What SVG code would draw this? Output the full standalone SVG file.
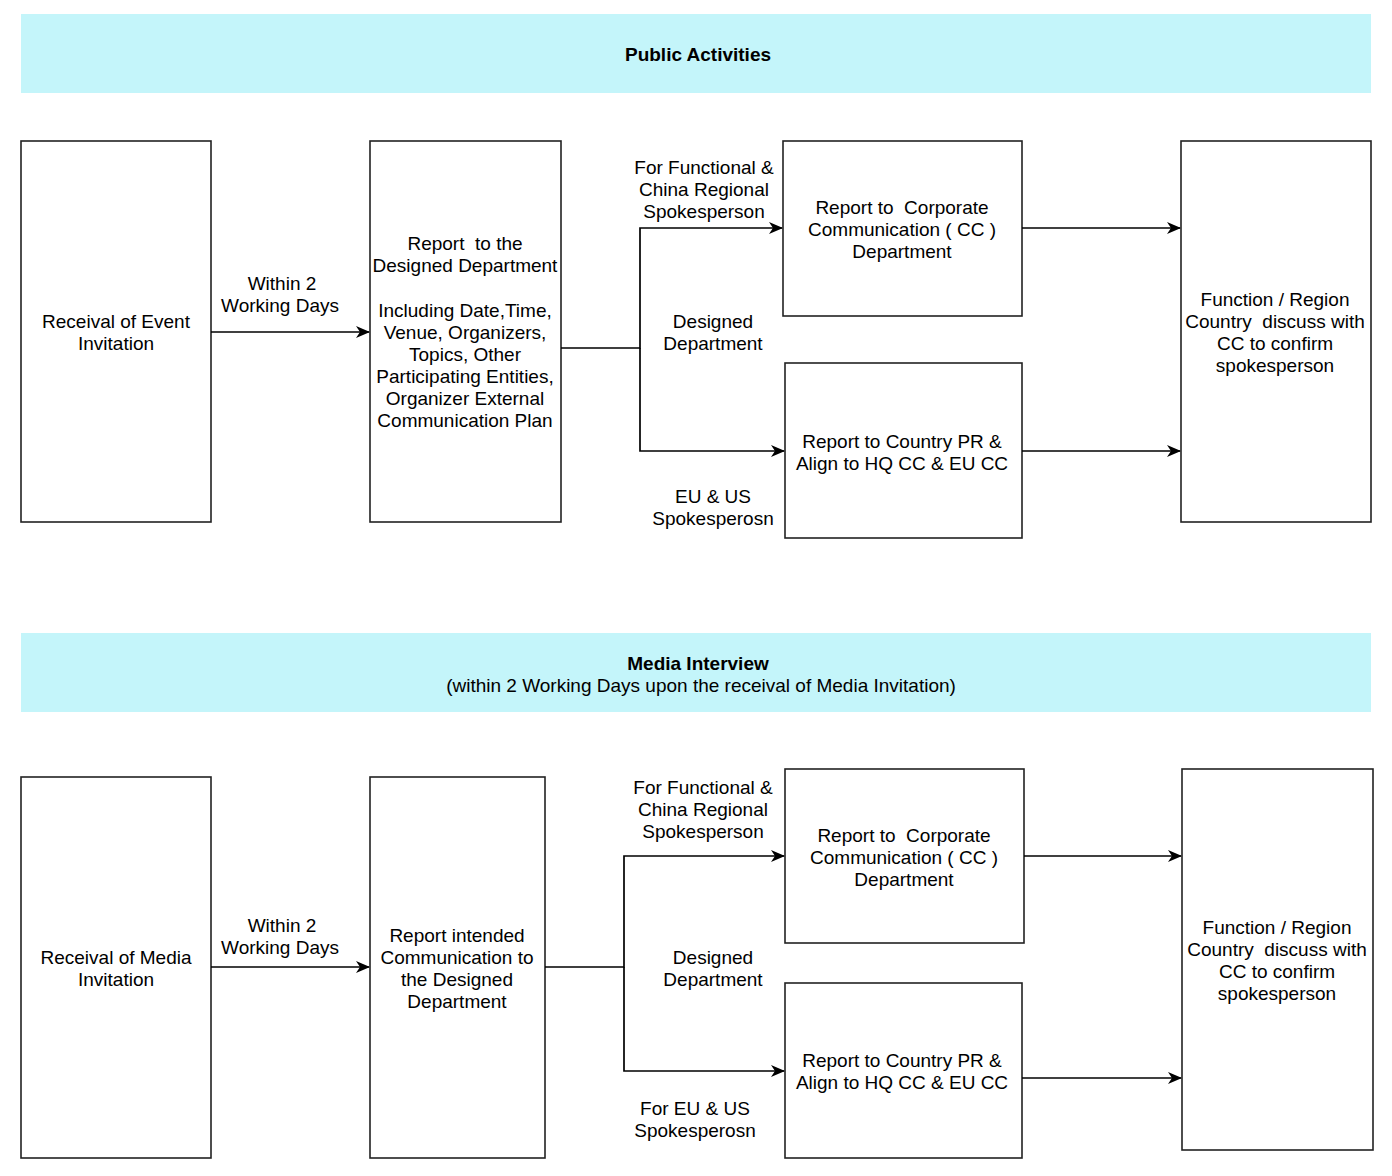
<svg xmlns="http://www.w3.org/2000/svg" width="1392" height="1176" viewBox="0 0 1392 1176">
<style>
.box{fill:#fff;stroke:#222;stroke-width:1.6}
.band{fill:#C4F5FA}
text{font-family:"Liberation Sans",Arial,sans-serif;font-size:19px;fill:#000;text-anchor:middle;white-space:pre}
.b{font-weight:bold}
.ln{fill:none;stroke:#000;stroke-width:1.7}
</style>
<defs>
<marker id="arr" viewBox="0 0 14 12" refX="13" refY="6" markerWidth="14" markerHeight="12" markerUnits="userSpaceOnUse" orient="auto">
<path d="M0,0 L14,6 L0,12 L4,6 Z" fill="#000"/>
</marker>
</defs>
<rect width="1392" height="1176" fill="#fff"/>

<g id="banner1">
<rect class="band" x="21" y="14" width="1350" height="79"/>
<text class="b" x="698" y="61">Public Activities</text>
</g>

<g id="a1"><rect class="box" x="21" y="141" width="190" height="381"/>
<text x="116" y="328">Receival of Event</text><text x="116" y="350">Invitation</text></g>
<g id="b1"><rect class="box" x="370" y="141" width="191" height="381"/>
<text x="465" y="250">Report  to the</text><text x="465" y="272">Designed Department</text>
<text x="465" y="317">Including Date,Time,</text><text x="465" y="339">Venue, Organizers,</text>
<text x="465" y="361">Topics, Other</text><text x="465" y="383">Participating Entities,</text>
<text x="465" y="405">Organizer External</text><text x="465" y="427">Communication Plan</text></g>
<g id="c1"><rect class="box" x="783" y="141" width="239" height="175"/>
<text x="902" y="214">Report to  Corporate</text><text x="902" y="236">Communication ( CC )</text><text x="902" y="258">Department</text></g>
<g id="d1"><rect class="box" x="785" y="363" width="237" height="175"/>
<text x="902" y="448">Report to Country PR &amp;</text><text x="902" y="470">Align to HQ CC &amp; EU CC</text></g>
<g id="e1"><rect class="box" x="1181" y="141" width="190" height="381"/>
<text x="1275" y="306">Function / Region</text><text x="1275" y="328">Country  discuss with</text>
<text x="1275" y="350">CC to confirm</text><text x="1275" y="372">spokesperson</text></g>

<g id="banner2">
<rect class="band" x="21" y="633" width="1350" height="79"/>
<text class="b" x="698" y="670">Media Interview</text>
<text x="701" y="692">(within 2 Working Days upon the receival of Media Invitation)</text>
</g>

<g id="a2"><rect class="box" x="21" y="777" width="190" height="381"/>
<text x="116" y="964">Receival of Media</text><text x="116" y="986">Invitation</text></g>
<g id="b2"><rect class="box" x="370" y="777" width="175" height="381"/>
<text x="457" y="942">Report intended</text><text x="457" y="964">Communication to</text>
<text x="457" y="986">the Designed</text><text x="457" y="1008">Department</text></g>
<g id="c2"><rect class="box" x="785" y="769" width="239" height="174"/>
<text x="904" y="842">Report to  Corporate</text><text x="904" y="864">Communication ( CC )</text><text x="904" y="886">Department</text></g>
<g id="d2"><rect class="box" x="785" y="983" width="237" height="175"/>
<text x="902" y="1067">Report to Country PR &amp;</text><text x="902" y="1089">Align to HQ CC &amp; EU CC</text></g>
<g id="e2"><rect class="box" x="1182" y="769" width="191" height="381"/>
<text x="1277" y="934">Function / Region</text><text x="1277" y="956">Country  discuss with</text>
<text x="1277" y="978">CC to confirm</text><text x="1277" y="1000">spokesperson</text></g>

<g id="connectors">
<path class="ln" d="M211,332 H369" marker-end="url(#arr)"/>
<path class="ln" d="M561,348 H640 V228 H782" marker-end="url(#arr)"/>
<path class="ln" d="M640,348 V451 H784" marker-end="url(#arr)"/>
<path class="ln" d="M1022,228 H1180" marker-end="url(#arr)"/>
<path class="ln" d="M1022,451 H1180" marker-end="url(#arr)"/>

<path class="ln" d="M211,967 H369" marker-end="url(#arr)"/>
<path class="ln" d="M545,967 H624 V856 H784" marker-end="url(#arr)"/>
<path class="ln" d="M624,967 V1071 H784" marker-end="url(#arr)"/>
<path class="ln" d="M1024,856 H1181" marker-end="url(#arr)"/>
<path class="ln" d="M1022,1078 H1181" marker-end="url(#arr)"/>

<text x="282" y="290">Within 2</text><text x="280" y="312">Working Days</text>
<text x="704" y="174">For Functional &amp;</text><text x="704" y="196">China Regional</text><text x="704" y="218">Spokesperson</text>
<text x="713" y="328">Designed</text><text x="713" y="350">Department</text>
<text x="713" y="503">EU &amp; US</text><text x="713" y="525">Spokesperosn</text>

<text x="282" y="932">Within 2</text><text x="280" y="954">Working Days</text>
<text x="703" y="794">For Functional &amp;</text><text x="703" y="816">China Regional</text><text x="703" y="838">Spokesperson</text>
<text x="713" y="964">Designed</text><text x="713" y="986">Department</text>
<text x="695" y="1115">For EU &amp; US</text><text x="695" y="1137">Spokesperosn</text>
</g>
</svg>
